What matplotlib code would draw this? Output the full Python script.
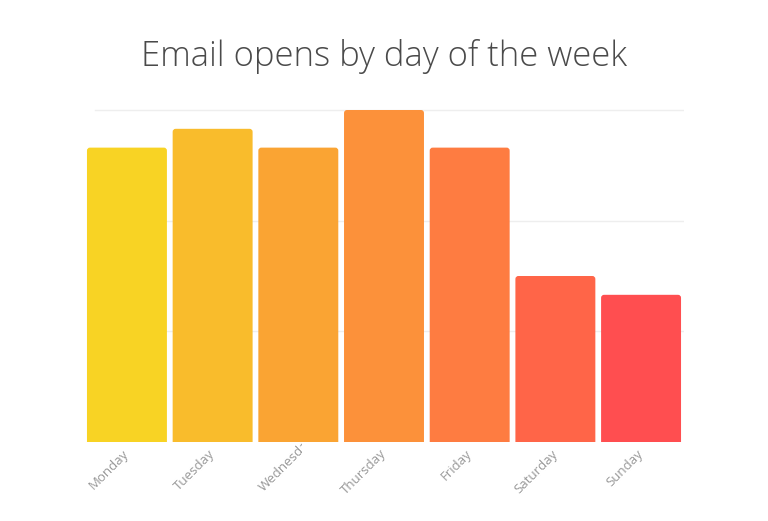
import matplotlib
matplotlib.use("Agg")
import matplotlib.pyplot as plt
from matplotlib.patches import FancyBboxPatch
from matplotlib.transforms import Bbox, ScaledTranslation

days = ["Monday", "Tuesday", "Wednesday", "Thursday", "Friday", "Saturday", "Sunday"]
opens = [26.6, 28.3, 26.6, 30.0, 26.6, 15.0, 13.3]
bar_colors = ["#F8D324", "#F9BC2C", "#FAA433", "#FC913A", "#FE7C41", "#FF6548", "#FF4E50"]
grid_vals = [10, 20, 30]

plt.rcParams["font.family"] = ["Open Sans", "DejaVu Sans"]

W, H = 768, 521
fig = plt.figure(figsize=(W / 100, H / 100), dpi=100)
ax = fig.add_axes([84.1 / W, 1 - 442 / H, 599.8 / W, 342 / H])

x = list(range(len(days)))
ymax = 30 * 342 / 332
ax.set_xlim(-0.5, len(days) - 0.5)
ax.set_ylim(0, ymax)

# bars with slightly rounded tops; start below 0 so the bottom corners get clipped
bw = 0.933
px_x = 599.8 / len(days)
px_y = 342 / ymax
r = 3 / px_x
for xi, v, c in zip(x, opens, bar_colors):
    p = FancyBboxPatch((xi - bw / 2, -1), bw, v + 1,
                       boxstyle=f"round,pad=0,rounding_size={r}",
                       mutation_aspect=px_x / px_y,
                       facecolor=c, edgecolor="none", zorder=2)
    ax.add_patch(p)

for g in grid_vals:
    ax.axhline(g, xmin=11 / 599.8, xmax=1.0, color="#eeeeee", lw=1, zorder=1)

ax.set_yticks([])
ax.set_xticks(x)
ax.set_xticklabels(days, rotation=45, ha="right", va="top",
                   rotation_mode="anchor", fontsize=9.5, color="#999999")
ax.tick_params(axis="x", length=0, pad=3.8)
for s in ax.spines.values():
    s.set_visible(False)

labels = ax.get_xticklabels()
shift = ScaledTranslation(-4.5 / 100, 0, fig.dpi_scale_trans)
for lab in labels:
    lab.set_transform(lab.get_transform() + shift)

# the reference shows Wednesday truncated ("Wednesd..."), cut at the bar centre
lab = labels[2]
lab.set_transform(lab.get_transform() + ScaledTranslation(14 / 100, 14 / 100, fig.dpi_scale_trans))
lab.set_clip_on(True)
lab.set_clip_box(Bbox.from_extents(0, 0, 302, H))

fig.text(0.5, 1 - 66 / H, "Email opens by day of the week", ha="center",
         va="baseline", fontsize=24.9, fontweight="light", color="#4a4a4a")

fig.savefig("out.png", dpi=100)
